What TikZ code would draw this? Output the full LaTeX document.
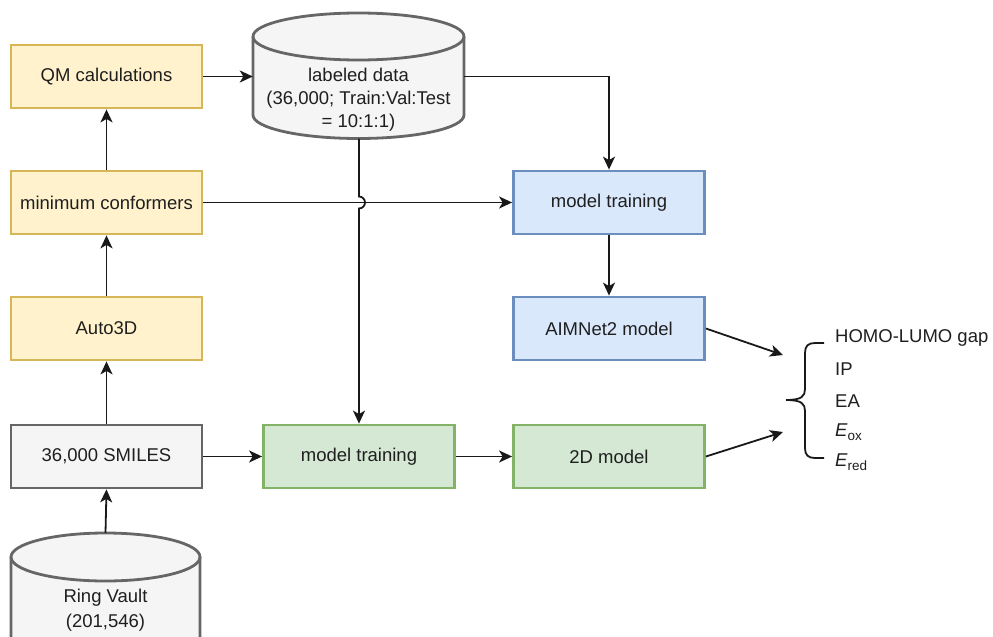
\documentclass[tikz,border=0pt]{standalone}
\usepackage{fontspec}
\setmainfont{Liberation Sans}
\usetikzlibrary{arrows.meta}
\definecolor{ylwfill}{HTML}{FFF2CC}\definecolor{ylwline}{HTML}{D6B656}
\definecolor{bluefill}{HTML}{DAE8FC}\definecolor{blueline}{HTML}{6C8EBF}
\definecolor{grnfill}{HTML}{D5E8D4}\definecolor{grnline}{HTML}{82B366}
\definecolor{gryfill}{HTML}{F5F5F5}\definecolor{gryline}{HTML}{666666}
\newcommand{\sub}[1]{\raisebox{-0.4ex}{\fontsize{13.5}{14}\selectfont #1}}
\begin{document}
\begin{tikzpicture}[x=1pt,y=-1pt,
  every node/.style={font=\fontsize{18.5}{23}\selectfont, text=black!88},
  box/.style={draw, line width=2.8pt, minimum width=191pt, minimum height=63pt, inner sep=0pt},
  ybox/.style={box, fill=ylwfill, draw=ylwline},
  bbox/.style={box, fill=bluefill, draw=blueline},
  gbox/.style={box, fill=grnfill, draw=grnline},
  kbox/.style={box, fill=gryfill, draw=gryline},
  cyl/.style={fill=gryfill, draw=gryline, line width=2.8pt},
  conn/.style={line width=1.8pt, black!90, -{Stealth[length=13pt,width=12pt,inset=3.5pt]}},
  lbl/.style={anchor=west, inner sep=0pt}]
\useasboundingbox (0,0) rectangle (993,637);

% boxes of the left column
\node[ybox] (qm)   at (106.5,76.5)  {QM calculations};
\node[ybox] (minc) at (106.5,202.5) {minimum conformers};
\node[ybox] (a3d)  at (106.5,328.5) {Auto3D};
\node[kbox] (smi)  at (106.5,456.5) {36,000 SMILES};

% training and model boxes
\node[bbox] (trb)  at (609,202.5) {model training};
\node[bbox] (aim)  at (609,328.5) {AIMNet2 model};
\node[gbox] (trg)  at (359,456.5) {model training};
\node[gbox] (m2d)  at (609,456.5) {2D model};

% labeled data cylinder
\path[cyl] (253,36.5) -- (253,115) arc[start angle=180,end angle=0,x radius=105.5,y radius=23.5]
  -- (464,36.5) arc[start angle=0,end angle=-180,x radius=105.5,y radius=23.5] -- cycle;
\draw[gryline, line width=2.8pt] (253,36.5) arc[start angle=180,end angle=0,x radius=105.5,y radius=23.5];
\node[minimum width=211pt, minimum height=125pt, inner sep=0pt] (lab) at (358.5,76) {};
\node[align=center, inner sep=0pt] (labtxt) at (358.5,99.5)
  {labeled data\\(36,000; Train:Val:Test\\= 10:1:1)};

% Ring Vault cylinder (runs off the lower edge)
\path[cyl] (11,557) -- (11,660) -- (200,660) -- (200,557)
  arc[start angle=0,end angle=-180,x radius=94.5,y radius=24] -- cycle;
\draw[gryline, line width=2.8pt] (11,557) arc[start angle=180,end angle=0,x radius=94.5,y radius=24];
\node[minimum width=189pt, minimum height=104pt, inner sep=0pt] (rv) at (105.5,585) {};
\node[align=center, inner sep=0pt, font=\fontsize{18.5}{25}\selectfont] (rvtxt) at (105.5,610)
  {Ring Vault\\(201,546)};
\coordinate (rvtop) at (105.5,533);

% properties and brace
\node[lbl] (p1) at (835,338) {HOMO-LUMO gap};
\node[lbl] (p2) at (835,369.5) {IP};
\node[lbl] (p3) at (835,401) {EA};
\node[lbl] (p4) at (835,432) {\textit{E}\sub{ox}};
\node[lbl] (p5) at (835,462) {\textit{E}\sub{red}};
\coordinate (br) at (786,400);
\draw[line width=1.8pt, black!90]
  (824,343) -- (815,343) .. controls (808,343) and (805,346) .. (805,353) -- (805,389)
  .. controls (805,396) and (802,400) .. (br)
  (br) .. controls (802,400) and (805,404) .. (805,411) -- (805,448)
  .. controls (805,455) and (808,458) .. (815,458) -- (824,458);

% connectors
\draw[conn] (qm.east) -- (qm.east -| lab.west);
\draw[conn] (minc.north) -- (qm.south);
\draw[conn] (a3d.north) -- (minc.south);
\draw[conn] (smi.north) -- (a3d.south);
\draw[conn] (rvtop) -- (smi.south);
\draw[conn] (minc.east) -- (trb.west);
\draw[conn] (lab.east |- qm.east) -| (trb.north);
\draw[conn] (trb.south) -- (aim.north);
\draw[conn] (smi.east) -- (trg.west);
\draw[conn] (trg.east) -- (m2d.west);
\draw[conn] (359,138.5) -- (359,196.5) arc[start angle=-90,end angle=90,radius=6] -- (trg.north);
\draw[conn] (aim.east) -- (783,355);
\draw[conn] (m2d.east) -- (783,432);
\end{tikzpicture}
\end{document}
